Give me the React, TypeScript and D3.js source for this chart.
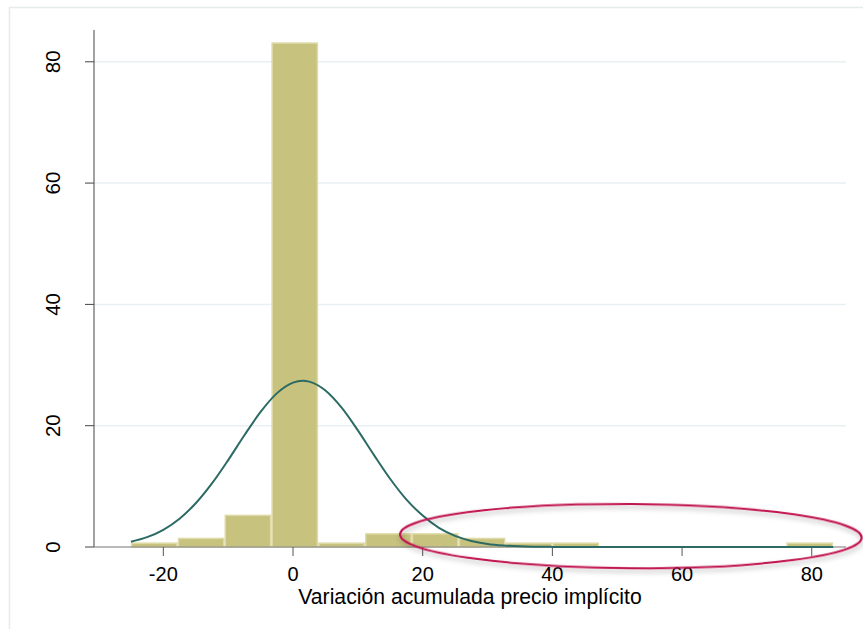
import React from "react";
import * as d3 from "d3";

// Histogram bins (lower edges), last upper edge, percent heights
const binEdges = [-25.0, -17.78, -10.56, -3.34, 3.88, 11.1, 18.32, 25.54, 32.76, 39.98, 47.2, 54.42, 61.64, 68.86, 76.08, 83.3];
const binPercent = [0.76, 1.53, 5.34, 83.21, 0.76, 2.29, 2.29, 1.53, 0.76, 0.76, 0, 0, 0, 0, 0.76];

// Normal density overlay (in percent units)
const curveX = [-25, -22.5, -20, -17.5, -15, -12.5, -10, -7.5, -5, -2.5, 0, 1.5, 2.5, 5, 7.5, 10, 12.5, 15, 17.5, 20, 22.5, 25, 27.5, 30, 32.5, 35, 37.5, 40, 45, 50, 60, 70, 83.3];
const curveY = [0.88, 1.63, 2.84, 4.67, 7.21, 10.48, 14.33, 18.42, 22.28, 25.33, 27.1, 27.4, 27.27, 25.8, 22.97, 19.23, 15.14, 11.21, 7.81, 5.18, 3.15, 1.83, 1.0, 0.51, 0.25, 0.11, 0.05, 0.02, 0, 0, 0, 0, 0];

const xTicks = [-20, 0, 20, 40, 60, 80];
const yTicks = [0, 20, 40, 60, 80];
const xTitle = "Variación acumulada precio implícito";

// Annotation ellipse in data units: center x, center y, radius x, radius y
const ellipseSpec = [52.1, 1.8, 35.6, 5.3];

export default function App() {
  const W = 863, H = 629;
  const x = d3.scaleLinear().domain([-30.69, 85.28]).range([94, 846]);
  const y = d3.scaleLinear().domain([0, 85.24]).range([547, 30]);

  const bins = binPercent.map((v, i) => ({ x0: binEdges[i], x1: binEdges[i + 1], v }));
  const pts = curveX.map((cx, i) => [cx, curveY[i]] as [number, number]);
  const line = d3.line<[number, number]>().x(d => x(d[0])).y(d => y(d[1])).curve(d3.curveMonotoneX);

  const [ecx, ecy, erx, ery] = ellipseSpec;
  const ex = x(ecx), ey = y(ecy);
  const erxPx = x(ecx + erx) - x(ecx);
  const eryPx = y(0) - y(ery);

  const font = "Arial, 'Liberation Sans', Helvetica, sans-serif";

  return (
    <svg width={W} height={H} style={{ position: "absolute", left: 0, top: 0, background: "#fff" }} fontFamily={font}>
      <defs>
        <filter id="shadow" x="-10%" y="-50%" width="120%" height="200%">
          <feDropShadow dx="1" dy="3" stdDeviation="2.5" floodColor="#000" floodOpacity="0.3" />
        </filter>
      </defs>
      <rect x={9.5} y={7.5} width={W + 10} height={H + 10} fill="#fff" stroke="#e4ecec" strokeWidth={1.5} />
      {/* grid */}
      {yTicks.filter(t => t !== 0).map(t => (
        <line key={t} x1={94} x2={846} y1={y(t)} y2={y(t)} stroke="#e8f0f2" strokeWidth={1.5} />
      ))}
      {/* bars */}
      {bins.filter(b => b.v > 0).map((b, i) => (
        <rect key={i} x={x(b.x0) + 0.75} y={y(b.v) + 0.75} width={x(b.x1) - x(b.x0) - 1.5} height={y(0) - y(b.v) - 0.75}
          fill="#c8c27f" stroke="#dfdba8" strokeWidth={1.5} />
      ))}
      {/* axes */}
      <line x1={94} x2={94} y1={30} y2={547} stroke="#444" strokeWidth={1} />
      <line x1={94} x2={846} y1={547} y2={547} stroke="#777" strokeWidth={1.2} />
      {yTicks.map(t => (
        <g key={t}>
          <line x1={85} x2={94} y1={y(t)} y2={y(t)} stroke="#444" strokeWidth={1} />
          <text transform={`translate(${59.5},${y(t)}) rotate(-90)`} textAnchor="middle" fontSize={20.5} fill="#000">{t}</text>
        </g>
      ))}
      {xTicks.map(t => (
        <g key={t}>
          <line x1={x(t)} x2={x(t)} y1={547} y2={556} stroke="#555" strokeWidth={1} />
          <text x={x(t)} y={580.5} textAnchor="middle" fontSize={20} fill="#000">{t}</text>
        </g>
      ))}
      <text x={470} y={604} textAnchor="middle" fontSize={21.2} fill="#000">{xTitle}</text>
      {/* normal curve */}
      <path d={line(pts) || ""} fill="none" stroke="#2c6b64" strokeWidth={2} />
      {/* annotation ellipse */}
      <ellipse cx={ex} cy={ey} rx={erxPx} ry={eryPx} fill="none" stroke="#c0124f" strokeWidth={2}
        transform={`rotate(0.4,${ex},${ey})`} filter="url(#shadow)" />
    </svg>
  );
}
